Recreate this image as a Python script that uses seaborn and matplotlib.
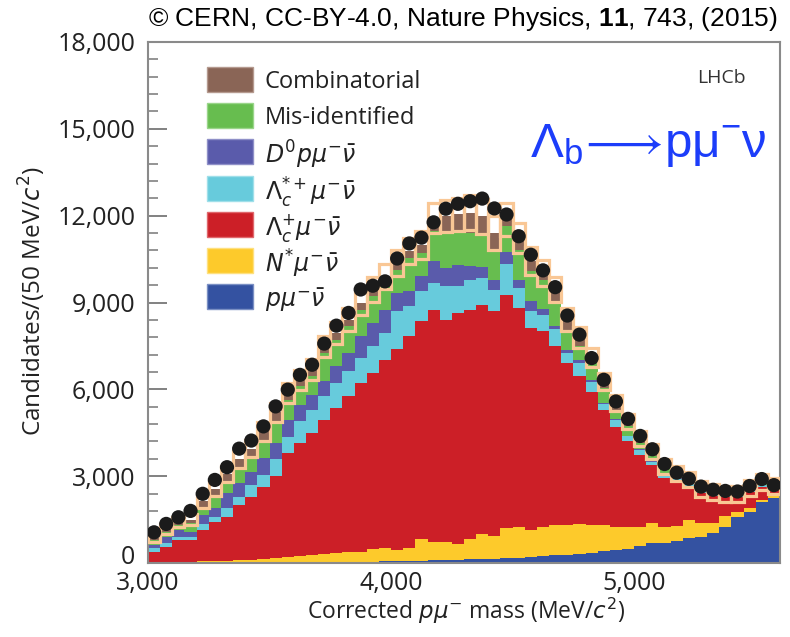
import numpy as np
import pandas as pd
import matplotlib
matplotlib.use("Agg")
import matplotlib.pyplot as plt
import matplotlib.transforms as mtransforms
import seaborn as sns
from matplotlib.patches import Rectangle

# ---------------- data ----------------
bin_start = 3000
bin_width = 50
n_bins = 52

# upper edge of each stacked layer (cumulative counts per 50 MeV bin)
top_pmunu = [30, 30, 30, 30, 30, 30, 30, 30, 35, 35,
             35, 40, 40, 40, 45, 45, 45, 50, 50, 55,
             60, 65, 75, 90, 110, 120, 128, 135, 150, 170,
             190, 210, 230, 260, 290, 320, 360, 400, 440, 500,
             600, 680, 700, 760, 854, 900, 1050, 1256, 1602, 1775,
             2121, 2238]
top_nstar = [40, 40, 45, 50, 60, 70, 80, 100, 110, 130,
             160, 200, 250, 277, 300, 330, 391, 391, 480, 508,
             450, 508, 819, 738, 720, 670, 840, 990, 950, 1200,
             1256, 1150, 1256, 1315, 1315, 1349, 1315, 1315, 1256, 1250,
             1235, 1373, 1256, 1290, 1488, 1373, 1373, 1626, 1775, 1892,
             2180, 2318]
top_lc = [390, 565, 796, 796, 1142, 1430, 1603, 2007, 2296, 2642,
          3000, 3794, 4140, 4486, 4948, 5352, 5755, 6216, 6562, 7024,
          7400, 7831, 8350, 8754, 8408, 8638, 8754, 8927, 8696, 9273,
          8812, 8120, 8000, 7485, 6908, 6450, 5905, 5294, 4700, 4198,
          3737, 3391, 2950, 2757, 2650, 2410, 2318, 2295, 2295, 2468,
          2641, 2526]
top_lcstar = [507, 680, 911, 911, 1350, 1603, 1891, 2296, 2699, 3046,
              3600, 4340, 4890, 5294, 5755, 6216, 6620, 7081, 7485, 7946,
              8696, 8869, 9388, 9677, 9561, 9561, 9792, 9849, 9446, 10322,
              9503, 8696, 8560, 8085, 7254, 6900, 6251, 5500, 4948, 4371,
              3910, 3506, 3102, 2900, 2810, 2480, 2380, 2340, 2330, 2500,
              2680, 2560]
top_d0p = [623, 911, 1142, 1085, 1661, 1891, 2411, 2757, 3161, 3622,
           4141, 4948, 5467, 5813, 6274, 6793, 7254, 7831, 8292, 8754,
           9330, 9388, 9907, 10426, 10196, 10311, 10277, 10231, 9792, 10749,
           9792, 9042, 8790, 8200, 7370, 7000, 6332, 5530, 4990, 4400,
           3930, 3520, 3110, 2920, 2830, 2490, 2390, 2345, 2335, 2505,
           2690, 2565]
top_misid = [800, 1085, 1315, 1373, 1949, 2353, 2815, 3276, 3622, 4199,
             4833, 5640, 6101, 6447, 7254, 7716, 8177, 8754, 9215, 9677,
             10138, 10542, 10700, 11464, 11407, 11407, 11407, 11349, 10830, 11637,
             10830, 10080, 9792, 9042, 7998, 7485, 6908, 6043, 5294, 4717,
             4140, 3700, 3250, 3045, 2870, 2530, 2420, 2370, 2360, 2560,
             2760, 2620]
top_comb = [870, 1175, 1425, 1500, 2130, 2570, 3075, 3576, 3950, 4550,
            5210, 5870, 6332, 6678, 7485, 7946, 8408, 8984, 9446, 9907,
            10369, 10772, 11000, 11926, 11983, 12041, 12099, 11983, 11407, 11868,
            11234, 10426, 10022, 9446, 8408, 7780, 7100, 6274, 5525, 4890,
            4313, 3852, 3330, 3100, 2900, 2560, 2440, 2390, 2380, 2590,
            2790, 2650]
fit_unc = [150, 170, 180, 190, 220, 240, 260, 280, 300, 320,
           330, 340, 350, 360, 370, 380, 390, 400, 420, 430,
           440, 450, 480, 520, 560, 580, 600, 600, 580, 560,
           520, 480, 440, 420, 400, 360, 330, 300, 280, 270,
           260, 260, 260, 260, 260, 270, 280, 280, 280, 280,
           280, 280]
data_counts = [1060, 1350, 1580, 1800, 2390, 2870, 3310, 3950, 4230, 4720,
               5410, 5990, 6500, 6850, 7580, 8200, 8640, 9450, 9580, 9730,
               10520, 11040, 11240, 11770, 12240, 12410, 12500, 12590, 12250, 12040,
               11290, 10650, 10110, 9530, 8550, 7890, 7080, 6330, 5580, 4980,
               4390, 3930, 3420, 3120, 2910, 2640, 2530, 2490, 2470, 2660,
               2900, 2690]

legend_labels = ["Combinatorial", "Mis-identified",
                 r"$D^{0}p\mu^{-}\bar{\nu}$",
                 r"$\mathit{\Lambda}_c^{*+}\mu^{-}\bar{\nu}$",
                 r"$\mathit{\Lambda}_c^{+}\mu^{-}\bar{\nu}$",
                 r"$N^{*}\mu^{-}\bar{\nu}$",
                 r"$p\mu^{-}\bar{\nu}$"]
layer_colors = ["#8a6556", "#67bd4f", "#5a5bab", "#67cbdc",
                "#cc1f27", "#fdca2b", "#3452a1"]
legend_edge = ["#b59a8f", "#9ad58a", "#8f90c8", "#9fdfe9",
               "#e0676c", "#fee07f", "#7b90c4"]

x_ticks = [3000, 4000, 5000]
x_tick_labels = ["3,000", "4,000", "5,000"]
y_ticks = [0, 3000, 6000, 9000, 12000, 15000, 18000]
y_tick_labels = ["0", "3,000", "6,000", "9,000", "12,000", "15,000", "18,000"]

# ---------------- style ----------------
sns.set_style("white")
plt.rcParams["font.family"] = ["Open Sans", "DejaVu Sans"]
plt.rcParams["mathtext.fontset"] = "dejavusans"
plt.rcParams["mathtext.rm"] = "Liberation Sans"
plt.rcParams["mathtext.it"] = "Liberation Sans:italic"
plt.rcParams["mathtext.bf"] = "Liberation Sans:bold"

W, H = 790, 637
fig = plt.figure(figsize=(W / 100, H / 100), dpi=100)
ax = fig.add_axes([148 / W, 1 - 563 / H, 632 / W, 521 / H])

edges = bin_start + bin_width * np.arange(n_bins + 1)
centers = edges[:-1] + bin_width / 2

layers = [top_comb, top_misid, top_d0p, top_lcstar, top_lc, top_nstar, top_pmunu]
for vals, col in zip(layers, layer_colors):
    df = pd.DataFrame({"mass": centers, "count": vals})
    sns.histplot(data=df, x="mass", weights="count", bins=n_bins,
                 binrange=(edges[0], edges[-1]), element="step",
                 fill=True, color=col, alpha=1, linewidth=0, ax=ax)

top = np.array(top_comb, dtype=float)
unc = np.array(fit_unc, dtype=float)
ax.bar(centers, 2 * unc, bottom=top - unc, width=bin_width, fill=False,
       edgecolor="#f9c795", linewidth=2.3, zorder=4)

sns.scatterplot(x=centers, y=data_counts, color="#1b1b1b", s=105,
                edgecolor="none", zorder=6, ax=ax, legend=False)

ax.set_xlim(3000, 5600)
ax.set_ylim(0, 18000)
ax.set_xticks(x_ticks)
ax.set_xticklabels(x_tick_labels)
ax.set_yticks(y_ticks)
ax.set_yticklabels(y_tick_labels)
ax.set_xticks(np.arange(3000, 5601, 200), minor=True)
ax.set_yticks(np.arange(0, 18001, 600), minor=True)
ax.tick_params(axis="y", which="major", direction="in", length=14, width=1.3,
               color="#777777", labelsize=18, pad=9, left=True)
ax.tick_params(axis="y", which="minor", direction="in", length=7, width=1.1,
               color="#777777", left=True)
ax.tick_params(axis="x", which="major", direction="in", length=10, width=1.3,
               color="#555555", labelsize=18, pad=6, bottom=True)
ax.tick_params(axis="x", which="minor", direction="in", length=5, width=1.1,
               color="#555555", bottom=True)
for lab in ax.get_xticklabels() + ax.get_yticklabels():
    lab.set_color("#222222")
zero_lab = ax.get_yticklabels()[0]
zero_lab.set_transform(zero_lab.get_transform() +
                       mtransforms.ScaledTranslation(0, 8 / 100, fig.dpi_scale_trans))
for sp in ax.spines.values():
    sp.set_color("#8a8a8a")
    sp.set_linewidth(1.5)

ax.set_xlabel(r"Corrected $p\mu^{-}$ mass (MeV/$c^{2}$)", fontsize=16.5,
              color="#222222")
ax.xaxis.set_label_coords((466 - 148) / 632, -(611 - 563) / 521)
ax.xaxis.label.set_va("center")
ax.set_ylabel(r"Candidates/(50 MeV/$c^{2}$)", fontsize=17.5,
              color="#222222")
ax.yaxis.set_label_coords(-(148 - 32) / 632, (563 - 301) / 521)
ax.yaxis.label.set_va("center")

# legend drawn as boxes and labels
row_y = [79, 115.5, 151.5, 188, 224, 260.5, 296.7]
for yc, col, ec, lab in zip(row_y, layer_colors, legend_edge, legend_labels):
    ax.add_patch(Rectangle(((207 - 148) / 632, (563 - yc - 12.5) / 521),
                           46 / 632, 25 / 521, transform=ax.transAxes,
                           facecolor=col, edgecolor=ec, linewidth=1.0,
                           zorder=7))
    ax.text((265 - 148) / 632, (563 - yc) / 521, lab, fontsize=17,
            color="#222222", ha="left", va="center_baseline",
            transform=ax.transAxes, zorder=7)

ax.text((721 - 148) / 632, (563 - 78) / 521, "LHCb", fontsize=14,
        color="#333333", ha="center", va="center", transform=ax.transAxes)

fig.text(530 / W, 1 - 157 / H,
         r"$\mathrm{\Lambda_b}\!\longrightarrow\!\mathrm{p\mu^{-}\nu}$",
         fontsize=35.5, color="#1c3dfa", ha="left", va="baseline",
         math_fontfamily="custom")

fig.text(778 / W, 1 - 19 / H,
         r"© CERN, CC-BY-4.0, Nature Physics, $\mathbf{11}$, 743, (2015)",
         fontsize=19, color="black", ha="right", va="center",
         family="Liberation Sans", math_fontfamily="custom")

fig.savefig("out.png", dpi=100)
